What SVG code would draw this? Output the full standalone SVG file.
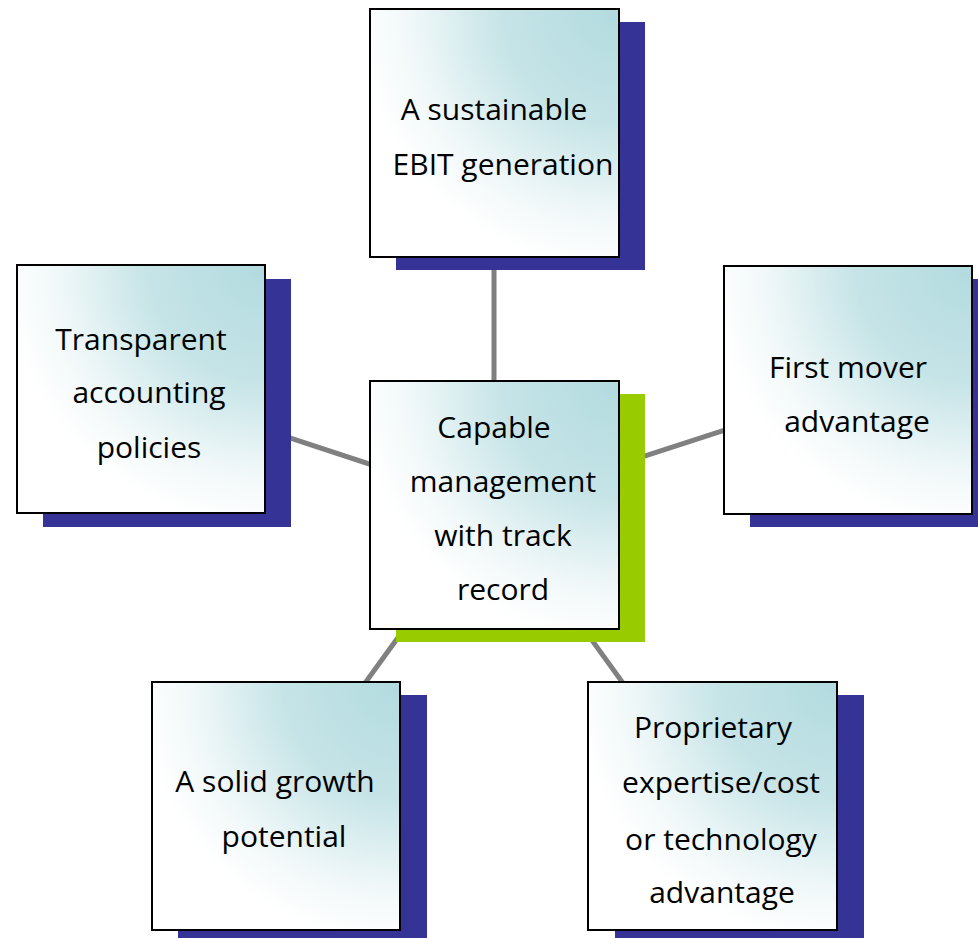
<svg xmlns="http://www.w3.org/2000/svg" width="978" height="938" viewBox="0 0 978 938">
<defs>
<radialGradient id="g" cx="1" cy="0" r="1.05" fx="1" fy="0">
<stop offset="0" stop-color="#B2DBDF"/>
<stop offset="0.45" stop-color="#C6E4E7"/>
<stop offset="0.8" stop-color="#F1F8F9"/>
<stop offset="1" stop-color="#FFFFFF"/>
</radialGradient>
</defs>
<style>
.box{fill:url(#g);stroke:#000;stroke-width:2}
.sh{fill:#363397}
.shg{fill:#99CC00}
.c{stroke:#808080;stroke-width:5;fill:none}
text{font-family:"Open Sans","Noto Sans",sans-serif;font-size:30px;fill:#000;text-anchor:middle}
</style>
<rect width="978" height="938" fill="#fff"/>
<g id="connectors">
<line class="c" x1="494" y1="133" x2="494" y2="505"/>
<line class="c" x1="141" y1="389" x2="494" y2="505"/>
<line class="c" x1="848" y1="390" x2="494" y2="505"/>
<line class="c" x1="276" y1="806" x2="494" y2="505"/>
<line class="c" x1="712" y1="806" x2="494" y2="505"/>
</g>
<g id="top">
<rect class="sh" x="396" y="22" width="249" height="248"/>
<rect class="box" x="370" y="9" width="249" height="248"/>
<text x="494" y="120">A sustainable</text>
<text x="503" y="175">EBIT generation</text>
</g>
<g id="left">
<rect class="sh" x="43" y="279" width="248" height="248"/>
<rect class="box" x="17" y="265" width="248" height="248"/>
<text x="141" y="350">Transparent</text>
<text x="149" y="403">accounting</text>
<text x="149" y="458">policies</text>
</g>
<g id="right">
<rect class="sh" x="750" y="279" width="228" height="248"/>
<rect class="box" x="724" y="266" width="248" height="248"/>
<text x="848" y="378">First mover</text>
<text x="857" y="432">advantage</text>
</g>
<g id="center">
<rect class="shg" x="396" y="394" width="249" height="248"/>
<rect class="box" x="370" y="381" width="249" height="248"/>
<text x="494" y="438">Capable</text>
<text x="503" y="492">management</text>
<text x="503" y="546">with track</text>
<text x="503" y="600">record</text>
</g>
<g id="bottomleft">
<rect class="sh" x="178" y="695" width="249" height="243"/>
<rect class="box" x="152" y="682" width="248" height="248"/>
<text x="275" y="792">A solid growth</text>
<text x="284" y="847">potential</text>
</g>
<g id="bottomright">
<rect class="sh" x="615" y="695" width="249" height="243"/>
<rect class="box" x="588" y="682" width="249" height="248"/>
<text x="713" y="738">Proprietary</text>
<text x="721" y="793">expertise/cost</text>
<text x="721" y="850">or technology</text>
<text x="722" y="903">advantage</text>
</g>
</svg>
